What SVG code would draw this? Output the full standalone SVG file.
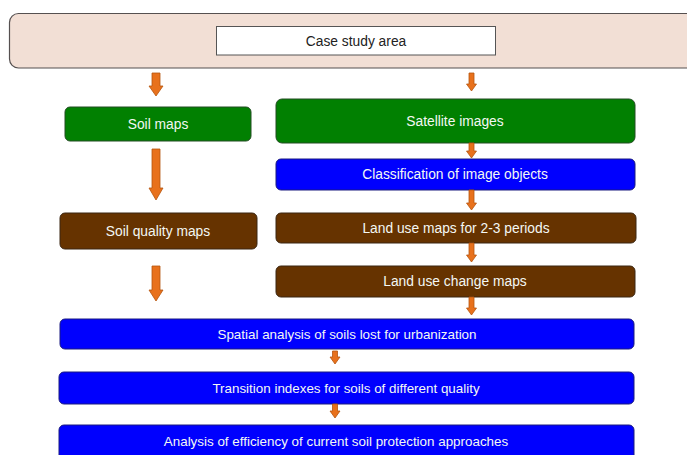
<svg xmlns="http://www.w3.org/2000/svg" width="687" height="455" viewBox="0 0 687 455">
<style>
text{font-family:"Liberation Sans",Arial,sans-serif;font-size:13.8px;fill:#f4f8f4;text-anchor:middle;dominant-baseline:central}
.green{fill:#018001;stroke:#234d23;stroke-width:1}
.blue{fill:#0000fe;stroke:#1a1a80;stroke-width:1}
.brown{fill:#663300;stroke:#3b2612;stroke-width:1}
.arr{fill:#e8711c;stroke:#b5560f;stroke-width:0.8}
.sm{font-size:13.4px}
</style>
<rect width="687" height="455" fill="#ffffff"/>
<g id="banner">
<rect x="9.5" y="13.5" width="700" height="54.5" rx="9" fill="#f2dfd5" stroke="#555050" stroke-width="1.2"/>
</g>
<g id="case-study-area">
<rect x="216.5" y="26.5" width="279" height="28.5" fill="#ffffff" stroke="#555555" stroke-width="1"/>
<text x="356" y="41" style="fill:#222222">Case study area</text>
</g>
<g id="soil-maps">
<rect x="65" y="107" width="186" height="34" rx="5" class="green"/>
<text x="158" y="124">Soil maps</text>
</g>
<g id="soil-quality-maps">
<rect x="60" y="213" width="197" height="36" rx="5" class="brown"/>
<text x="158" y="231">Soil quality maps</text>
</g>
<g id="satellite-images">
<rect x="276" y="99" width="359" height="44" rx="6" class="green"/>
<text x="455" y="121">Satellite images</text>
</g>
<g id="classification">
<rect x="276" y="159" width="359" height="31" rx="5" class="blue"/>
<text x="455" y="174.5">Classification of image objects</text>
</g>
<g id="land-use-maps">
<rect x="276" y="213" width="360" height="30" rx="5" class="brown"/>
<text x="456" y="228">Land use maps for 2-3 periods</text>
</g>
<g id="land-use-change-maps">
<rect x="276" y="266" width="359" height="31" rx="5" class="brown"/>
<text x="455" y="281">Land use change maps</text>
</g>
<g id="spatial-analysis">
<rect x="60" y="319" width="574" height="30" rx="5" class="blue"/>
<text x="347" y="334" class="sm">Spatial analysis of soils lost for urbanization</text>
</g>
<g id="transition-indexes">
<rect x="59" y="372" width="575" height="32" rx="5" class="blue"/>
<text x="346" y="388" class="sm">Transition indexes for soils of different quality</text>
</g>
<g id="analysis-efficiency">
<rect x="59" y="425" width="575" height="40" rx="5" class="blue"/>
<text x="336" y="441" class="sm">Analysis of efficiency of current soil protection approaches</text>
</g>
<g id="connectors">
<path class="arr" d="M152,73 H160 V86 H163 L156,96 L149,86 H152 Z"/>
<path class="arr" d="M152,149 H160 V188 H163 L156,200 L149,188 H152 Z"/>
<path class="arr" d="M152,266 H160 V290 H163 L156,301 L149,290 H152 Z"/>
<path class="arr" d="M469,73 H474 V84 H476.5 L471.5,91 L466.5,84 H469 Z"/>
<path class="arr" d="M469,143 H474 V151 H476.5 L471.5,158 L466.5,151 H469 Z"/>
<path class="arr" d="M469,190 H474 V203 H476.5 L471.5,210 L466.5,203 H469 Z"/>
<path class="arr" d="M469,243 H474 V255 H476.5 L471.5,262 L466.5,255 H469 Z"/>
<path class="arr" d="M469,297 H474 V308 H476.5 L471.5,315 L466.5,308 H469 Z"/>
<path class="arr" d="M332.5,351 H337.5 V357 H340 L335,364 L330,357 H332.5 Z"/>
<path class="arr" d="M332.5,404 H337.5 V411 H340 L335,418 L330,411 H332.5 Z"/>
</g>
</svg>
